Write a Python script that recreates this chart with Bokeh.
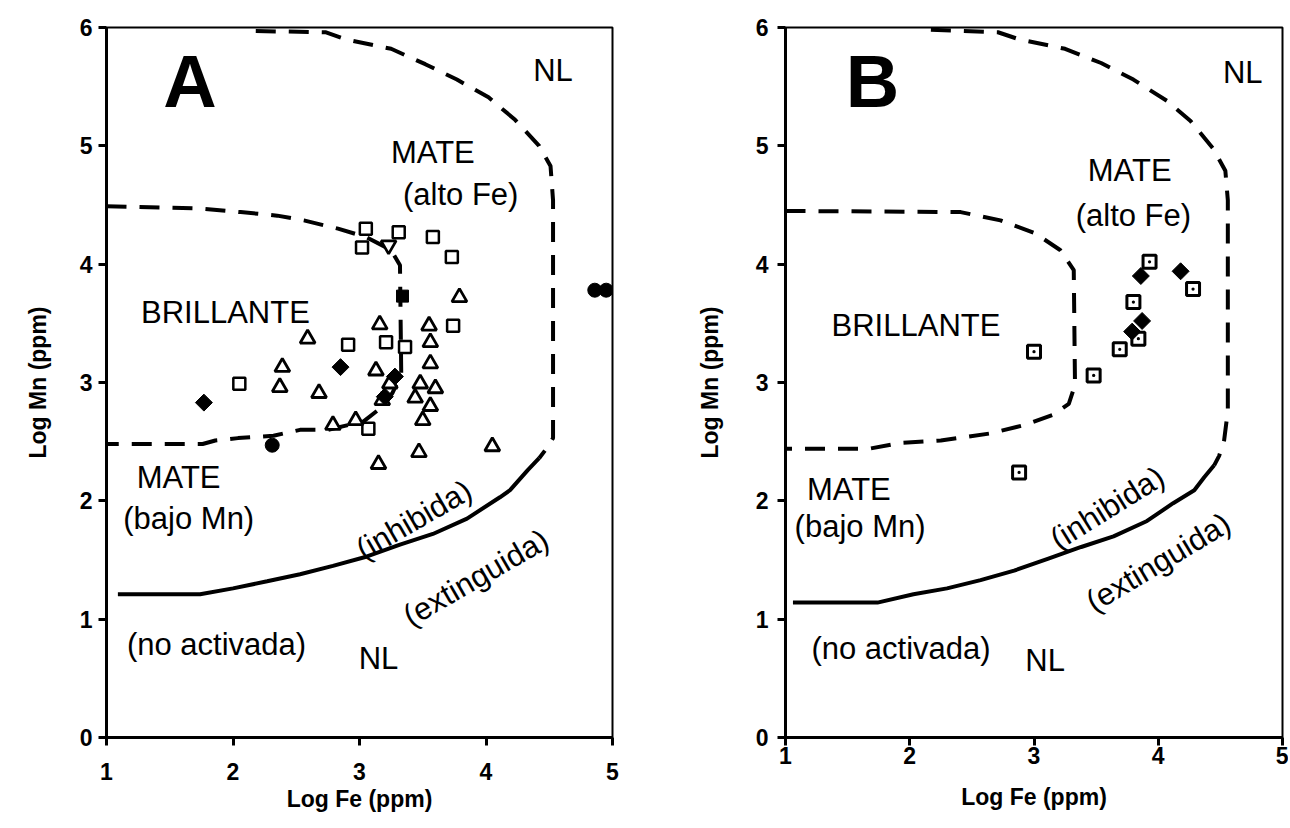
import math
from bokeh.plotting import figure
from bokeh.layouts import row
from bokeh.models import Range1d, Label, FixedTicker
from bokeh.embed import file_html
from bokeh.resources import INLINE

# ---------------- Panel A data ----------------
a_sq_fe = [3.05, 3.02, 3.31, 3.58, 3.73, 3.74, 2.91, 3.21, 3.36, 2.05, 3.07]
a_sq_mn = [4.30, 4.14, 4.27, 4.23, 4.06, 3.48, 3.32, 3.34, 3.30, 2.99, 2.61]

a_tri_fe = [3.79, 2.59, 3.16, 3.55, 3.56, 2.39, 3.13, 3.56, 2.37, 2.68, 3.48,
            3.60, 3.44, 3.24, 3.56, 3.50, 2.79, 2.97, 3.18, 3.47, 3.15, 4.05]
a_tri_mn = [3.72, 3.37, 3.49, 3.48, 3.34, 3.13, 3.10, 3.16, 2.96, 2.91, 2.99,
            2.95, 2.87, 2.99, 2.80, 2.68, 2.64, 2.68, 2.85, 2.41, 2.31, 2.46]

a_itri_fe = [3.23]
a_itri_mn = [4.16]

a_dia_fe = [1.77, 2.85, 3.28, 3.20]
a_dia_mn = [2.83, 3.13, 3.05, 2.88]

a_cir_fe = [2.31, 4.86, 4.95]
a_cir_mn = [2.47, 3.78, 3.78]

a_fsq_fe = [3.34]
a_fsq_mn = [3.73]

# boundaries A
a_inner_fe = [1.0, 1.74, 2.06, 2.35, 2.56, 2.83, 3.05, 3.25, 3.32, 3.33, 3.26, 3.15, 3.03,
              2.75, 2.53, 2.32, 2.04, 1.86, 1.76, 1.0]
a_inner_mn = [4.49, 4.47, 4.44, 4.41, 4.37, 4.30, 4.23, 4.12, 3.99, 3.07, 2.91, 2.77, 2.67,
              2.60, 2.60, 2.55, 2.53, 2.51, 2.48, 2.48]
a_outer_fe = [2.18, 2.73, 2.89, 3.25, 3.52, 3.77, 4.02, 4.23, 4.42, 4.51, 4.53, 4.53, 4.47, 4.42]
a_outer_mn = [5.97, 5.96, 5.90, 5.82, 5.69, 5.56, 5.41, 5.22, 5.00, 4.83, 4.54, 2.53, 2.43, 2.36]
a_ext_fe = [1.09, 1.74, 2.00, 2.27, 2.53, 2.79, 3.06, 3.32, 3.58, 3.85, 4.11, 4.19, 4.33, 4.42]
a_ext_mn = [1.21, 1.21, 1.26, 1.32, 1.38, 1.45, 1.53, 1.63, 1.72, 1.85, 2.03, 2.09, 2.26, 2.36]

# ---------------- Panel B data ----------------
b_sq_fe = [3.93, 4.28, 3.80, 3.84, 3.69, 3.00, 3.48, 2.88]
b_sq_mn = [4.02, 3.79, 3.68, 3.37, 3.28, 3.26, 3.06, 2.24]

b_dia_fe = [3.86, 4.18, 3.87, 3.79]
b_dia_mn = [3.90, 3.94, 3.52, 3.43]

b_inner_fe = [1.0, 2.41, 2.73, 3.01, 3.21, 3.32, 3.33, 3.28, 3.16, 2.92, 2.65, 2.25, 1.93, 1.67, 1.0]
b_inner_mn = [4.45, 4.44, 4.37, 4.26, 4.12, 3.95, 2.98, 2.82, 2.73, 2.64, 2.57, 2.51, 2.49, 2.44, 2.44]
b_outer_fe = [2.17, 2.71, 2.88, 3.25, 3.54, 3.80, 4.07, 4.26, 4.44, 4.54, 4.56, 4.56, 4.53, 4.49, 4.45]
b_outer_mn = [5.98, 5.96, 5.90, 5.82, 5.70, 5.56, 5.38, 5.21, 4.98, 4.79, 4.54, 2.76, 2.51, 2.38, 2.30]
b_ext_fe = [1.06, 1.74, 2.03, 2.30, 2.57, 2.84, 3.11, 3.38, 3.64, 3.91, 4.12, 4.29, 4.37, 4.45]
b_ext_mn = [1.14, 1.14, 1.21, 1.26, 1.33, 1.41, 1.51, 1.61, 1.70, 1.83, 1.98, 2.09, 2.20, 2.30]

x_ticks = [1, 2, 3, 4, 5]
y_ticks = [0, 1, 2, 3, 4, 5, 6]

FONT = "Liberation Sans"


def base_fig(width, height, bl, br, bt, bb, xtick_standoff, xlab_standoff, ytick_standoff, ylab_standoff):
    p = figure(width=width, height=height, output_backend="svg", toolbar_location=None,
               x_range=Range1d(1, 5), y_range=Range1d(0, 6),
               min_border_left=bl, min_border_right=br, min_border_top=bt, min_border_bottom=bb)
    p.xgrid.visible = False
    p.ygrid.visible = False
    p.outline_line_color = "black"
    p.outline_line_width = 2
    p.background_fill_color = "white"
    p.border_fill_color = "white"
    p.xaxis.ticker = FixedTicker(ticks=x_ticks)
    p.yaxis.ticker = FixedTicker(ticks=y_ticks)
    for ax in (p.xaxis[0], p.yaxis[0]):
        ax.axis_line_width = 3
        ax.axis_line_color = "black"
        ax.major_tick_line_width = 3
        ax.major_tick_line_color = "black"
        ax.major_tick_out = 8
        ax.major_tick_in = 0
        ax.minor_tick_line_color = None
        ax.major_label_text_font = FONT
        ax.major_label_text_font_style = "bold"
        ax.major_label_text_font_size = "23px"
        ax.major_label_text_color = "black"
        ax.axis_label_text_font = FONT
        ax.axis_label_text_font_style = "bold"
        ax.axis_label_text_font_size = "23px"
        ax.axis_label_text_color = "black"
    p.xaxis.axis_label = "Log Fe (ppm)"
    p.yaxis.axis_label = "Log Mn (ppm)"
    p.xaxis.major_label_standoff = xtick_standoff
    p.xaxis.axis_label_standoff = xlab_standoff
    p.yaxis.major_label_standoff = ytick_standoff
    p.yaxis.axis_label_standoff = ylab_standoff
    return p


def lab(p, x, y, text, size=31, angle=0, bold=False):
    p.add_layout(Label(x=x, y=y, text=text, text_font=FONT, text_font_size=f"{size}px",
                       text_font_style="bold" if bold else "normal",
                       text_align="center", text_baseline="middle", text_color="black",
                       angle=math.radians(angle)))


DASH = "20 13"
DIA = math.pi / 4

# ---------------- Figure A ----------------
pa = base_fig(640, 820, 106, 28, 27, 83, 17, 3, 6, 26)
pa.line(a_inner_fe, a_inner_mn, line_color="black", line_width=4, line_dash=DASH)
pa.line(a_outer_fe, a_outer_mn, line_color="black", line_width=4, line_dash=DASH)
pa.line(a_ext_fe, a_ext_mn, line_color="black", line_width=4)
pa.scatter(a_sq_fe, a_sq_mn, marker="square", size=12, line_width=2.5,
           line_color="black", fill_color="white")
pa.scatter(a_tri_fe, a_tri_mn, marker="triangle", size=15, line_width=2.8,
           line_color="black", fill_color="white")
pa.scatter(a_itri_fe, a_itri_mn, marker="inverted_triangle", size=15, line_width=2.8,
           line_color="black", fill_color="white")
pa.scatter(a_dia_fe, a_dia_mn, marker="square", angle=DIA, size=12, line_width=1,
           line_color="black", fill_color="black")
pa.scatter(a_cir_fe, a_cir_mn, marker="circle", size=14, line_width=1,
           line_color="black", fill_color="black")
pa.scatter(a_fsq_fe, a_fsq_mn, marker="square", size=12, line_width=1,
           line_color="black", fill_color="black")

lab(pa, 1.66, 5.54, "A", size=74, bold=True)
lab(pa, 4.53, 5.64, "NL")
lab(pa, 3.58, 4.94, "MATE")
lab(pa, 3.80, 4.59, "(alto Fe)")
lab(pa, 1.94, 3.59, "BRILLANTE")
lab(pa, 1.57, 2.20, "MATE")
lab(pa, 1.65, 1.85, "(bajo Mn)")
lab(pa, 1.87, 0.79, "(no activada)")
lab(pa, 3.15, 0.67, "NL")
lab(pa, 3.43, 1.84, "(inhibida)", angle=30)
lab(pa, 3.92, 1.35, "(extinguida)", angle=30)

# ---------------- Figure B ----------------
pb = base_fig(648, 820, 145, 6, 27, 83, 1, 17, 9, 30)
pb.line(b_inner_fe, b_inner_mn, line_color="black", line_width=4, line_dash=DASH)
pb.line(b_outer_fe, b_outer_mn, line_color="black", line_width=4, line_dash=DASH)
pb.line(b_ext_fe, b_ext_mn, line_color="black", line_width=4)
pb.scatter(b_sq_fe, b_sq_mn, marker="square_dot", size=13, line_width=3,
           line_color="black", fill_color="white")
pb.scatter(b_dia_fe, b_dia_mn, marker="square", angle=DIA, size=12, line_width=1,
           line_color="black", fill_color="black")

lab(pb, 1.70, 5.54, "B", size=74, bold=True)
lab(pb, 4.68, 5.62, "NL")
lab(pb, 3.77, 4.79, "MATE")
lab(pb, 3.80, 4.41, "(alto Fe)")
lab(pb, 2.05, 3.48, "BRILLANTE")
lab(pb, 1.51, 2.10, "MATE")
lab(pb, 1.60, 1.78, "(bajo Mn)")
lab(pb, 1.93, 0.75, "(no activada)")
lab(pb, 3.09, 0.65, "NL")
lab(pb, 3.59, 1.94, "(inhibida)", angle=32)
lab(pb, 4.00, 1.48, "(extinguida)", angle=31)

layout = row(pa, pb, spacing=0)
open("out.html", "w").write(file_html(layout, INLINE))
